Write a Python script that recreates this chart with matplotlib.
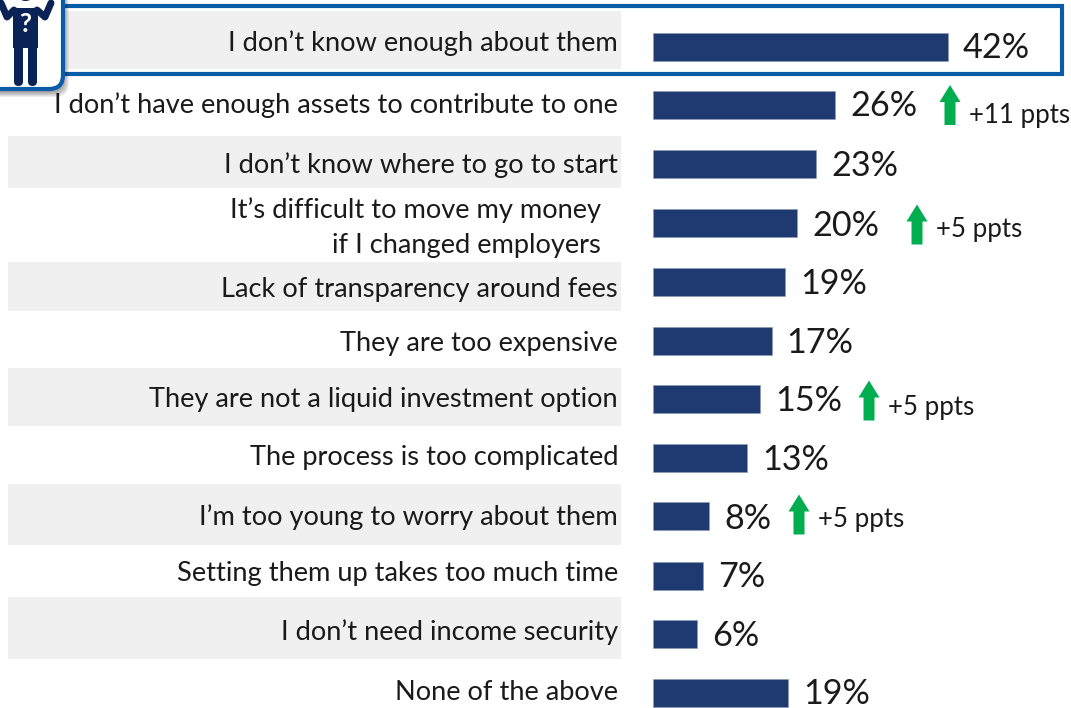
import matplotlib
matplotlib.use('Agg')
import matplotlib.pyplot as plt
from matplotlib.patches import Rectangle, FancyArrow, FancyBboxPatch, Circle

plt.rcParams['font.family'] = ['Lato', 'DejaVu Sans']

labels = ['I don\u2019t know enough about them',
          'I don\u2019t have enough assets to contribute to one',
          'I don\u2019t know where to go to start',
          'It\u2019s difficult to move my money\nif I changed employers',
          'Lack of transparency around fees',
          'They are too expensive',
          'They are not a liquid investment option',
          'The process is too complicated',
          'I\u2019m too young to worry about them',
          'Setting them up takes too much time',
          'I don\u2019t need income security',
          'None of the above']
pct_labels = ['42%', '26%', '23%', '20%', '19%', '17%', '15%', '13%', '8%', '7%', '6%', '19%']
values = [42, 25.9, 23.2, 20.5, 18.8, 16.9, 15.2, 13.4, 8, 7.1, 6.3, 19.2]
changes = [None, '+11 ppts', None, '+5 ppts', None, None, '+5 ppts', None, '+5 ppts', None, None, None]

# layout in picture pixels
bar_y = [46.5, 105, 164, 223, 282, 340.5, 399, 458, 516, 575.5, 634, 693]
label_y = [43, 105, 165, 228, 290, 343, 400, 457, 517, 574, 632, 692]
label_x = [618, 618, 618, 601, 618, 618, 618, 618, 618, 618, 618, 618]
pct_y = [48, 106, 166, 226, 284, 343, 401, 460, 519, 577, 636, 694]
arrow_x = {1: 950, 3: 917, 6: 869, 8: 799}
arrow_y = {1: 105, 3: 224.5, 6: 400.5, 8: 514.5}
change_y = {1: 115, 3: 230, 6: 407, 8: 519}
band_top = [11, 136, 262, 368, 484, 597]
band_bot = [69, 188, 311, 426, 545, 659]

navy = '#1F3A70'
green = '#00AE50'
blue = '#0B5CA8'
dark = '#0A2357'
ink = '#1a1a1a'

fig = plt.figure(figsize=(10.71, 7.08), dpi=100)
ax = fig.add_axes([0, 0, 1, 1])
ax.set_xlim(0, 1071)
ax.set_ylim(708, 0)
ax.axis('off')

# shaded bands behind the labels
for t, b in zip(band_top, band_bot):
    ax.add_patch(Rectangle((8, t), 613, b - t, fc='#F0F0F0', ec='none', zorder=1))

# highlight box on first row
ax.add_patch(Rectangle((40, 6), 1022, 68, fc='none', ec=blue, lw=3, zorder=4))

scale = (948 - 653) / 42.0
for i, (lab, v, pct) in enumerate(zip(labels, values, pct_labels)):
    w = v * scale
    ax.barh(bar_y[i], w, height=28, left=653, color=navy, edgecolor='#8d9bb8', linewidth=0.4, zorder=3)
    ax.text(label_x[i], label_y[i], lab, ha='right', va='center', fontsize=19.6, color=ink,
            linespacing=1.5, zorder=5)
    ax.text(653 + w + 15, pct_y[i], pct, ha='left', va='center', fontsize=24.6,
            color=ink, zorder=5)
    if changes[i]:
        ax.add_patch(FancyArrow(arrow_x[i], arrow_y[i] + 20, 0, -40, width=11, head_width=21,
                                head_length=17, length_includes_head=True,
                                fc=green, ec='none', zorder=5))
        ax.text(arrow_x[i] + 19, change_y[i], changes[i], ha='left', va='center', fontsize=18.6,
                color=ink, zorder=5)

# icon in the corner, soft shadow first
for k in range(6):
    ax.add_patch(FancyBboxPatch((-30, -30), 94 + k, 122 + k, boxstyle='round,pad=0,rounding_size=14',
                                fc='#000000', ec='none', alpha=0.07, zorder=5))
ax.add_patch(FancyBboxPatch((-30, -30), 93, 119, boxstyle='round,pad=0,rounding_size=14',
                            fc='white', ec=blue, lw=3, zorder=6))
ax.add_patch(Rectangle((13, 8), 25, 40, fc=dark, ec='none', zorder=7))
ax.add_patch(FancyBboxPatch((14, 40), 9, 46, boxstyle='round,pad=0,rounding_size=4.5', fc=dark, ec='none', zorder=7))
ax.add_patch(FancyBboxPatch((28, 40), 9, 46, boxstyle='round,pad=0,rounding_size=4.5', fc=dark, ec='none', zorder=7))
ax.add_patch(Circle((25.5, -9), 10, fc=dark, ec='none', zorder=7))
ax.plot([1, 7, 14], [3, 17, 10], color=dark, lw=5, solid_capstyle='round', solid_joinstyle='round', zorder=7)
ax.plot([51, 45, 37], [3, 17, 10], color=dark, lw=5, solid_capstyle='round', solid_joinstyle='round', zorder=7)
ax.text(25.5, 23.5, '?', ha='center', va='center', fontsize=19, fontweight='bold', color='white', zorder=8)

fig.savefig('out.png', dpi=100)
